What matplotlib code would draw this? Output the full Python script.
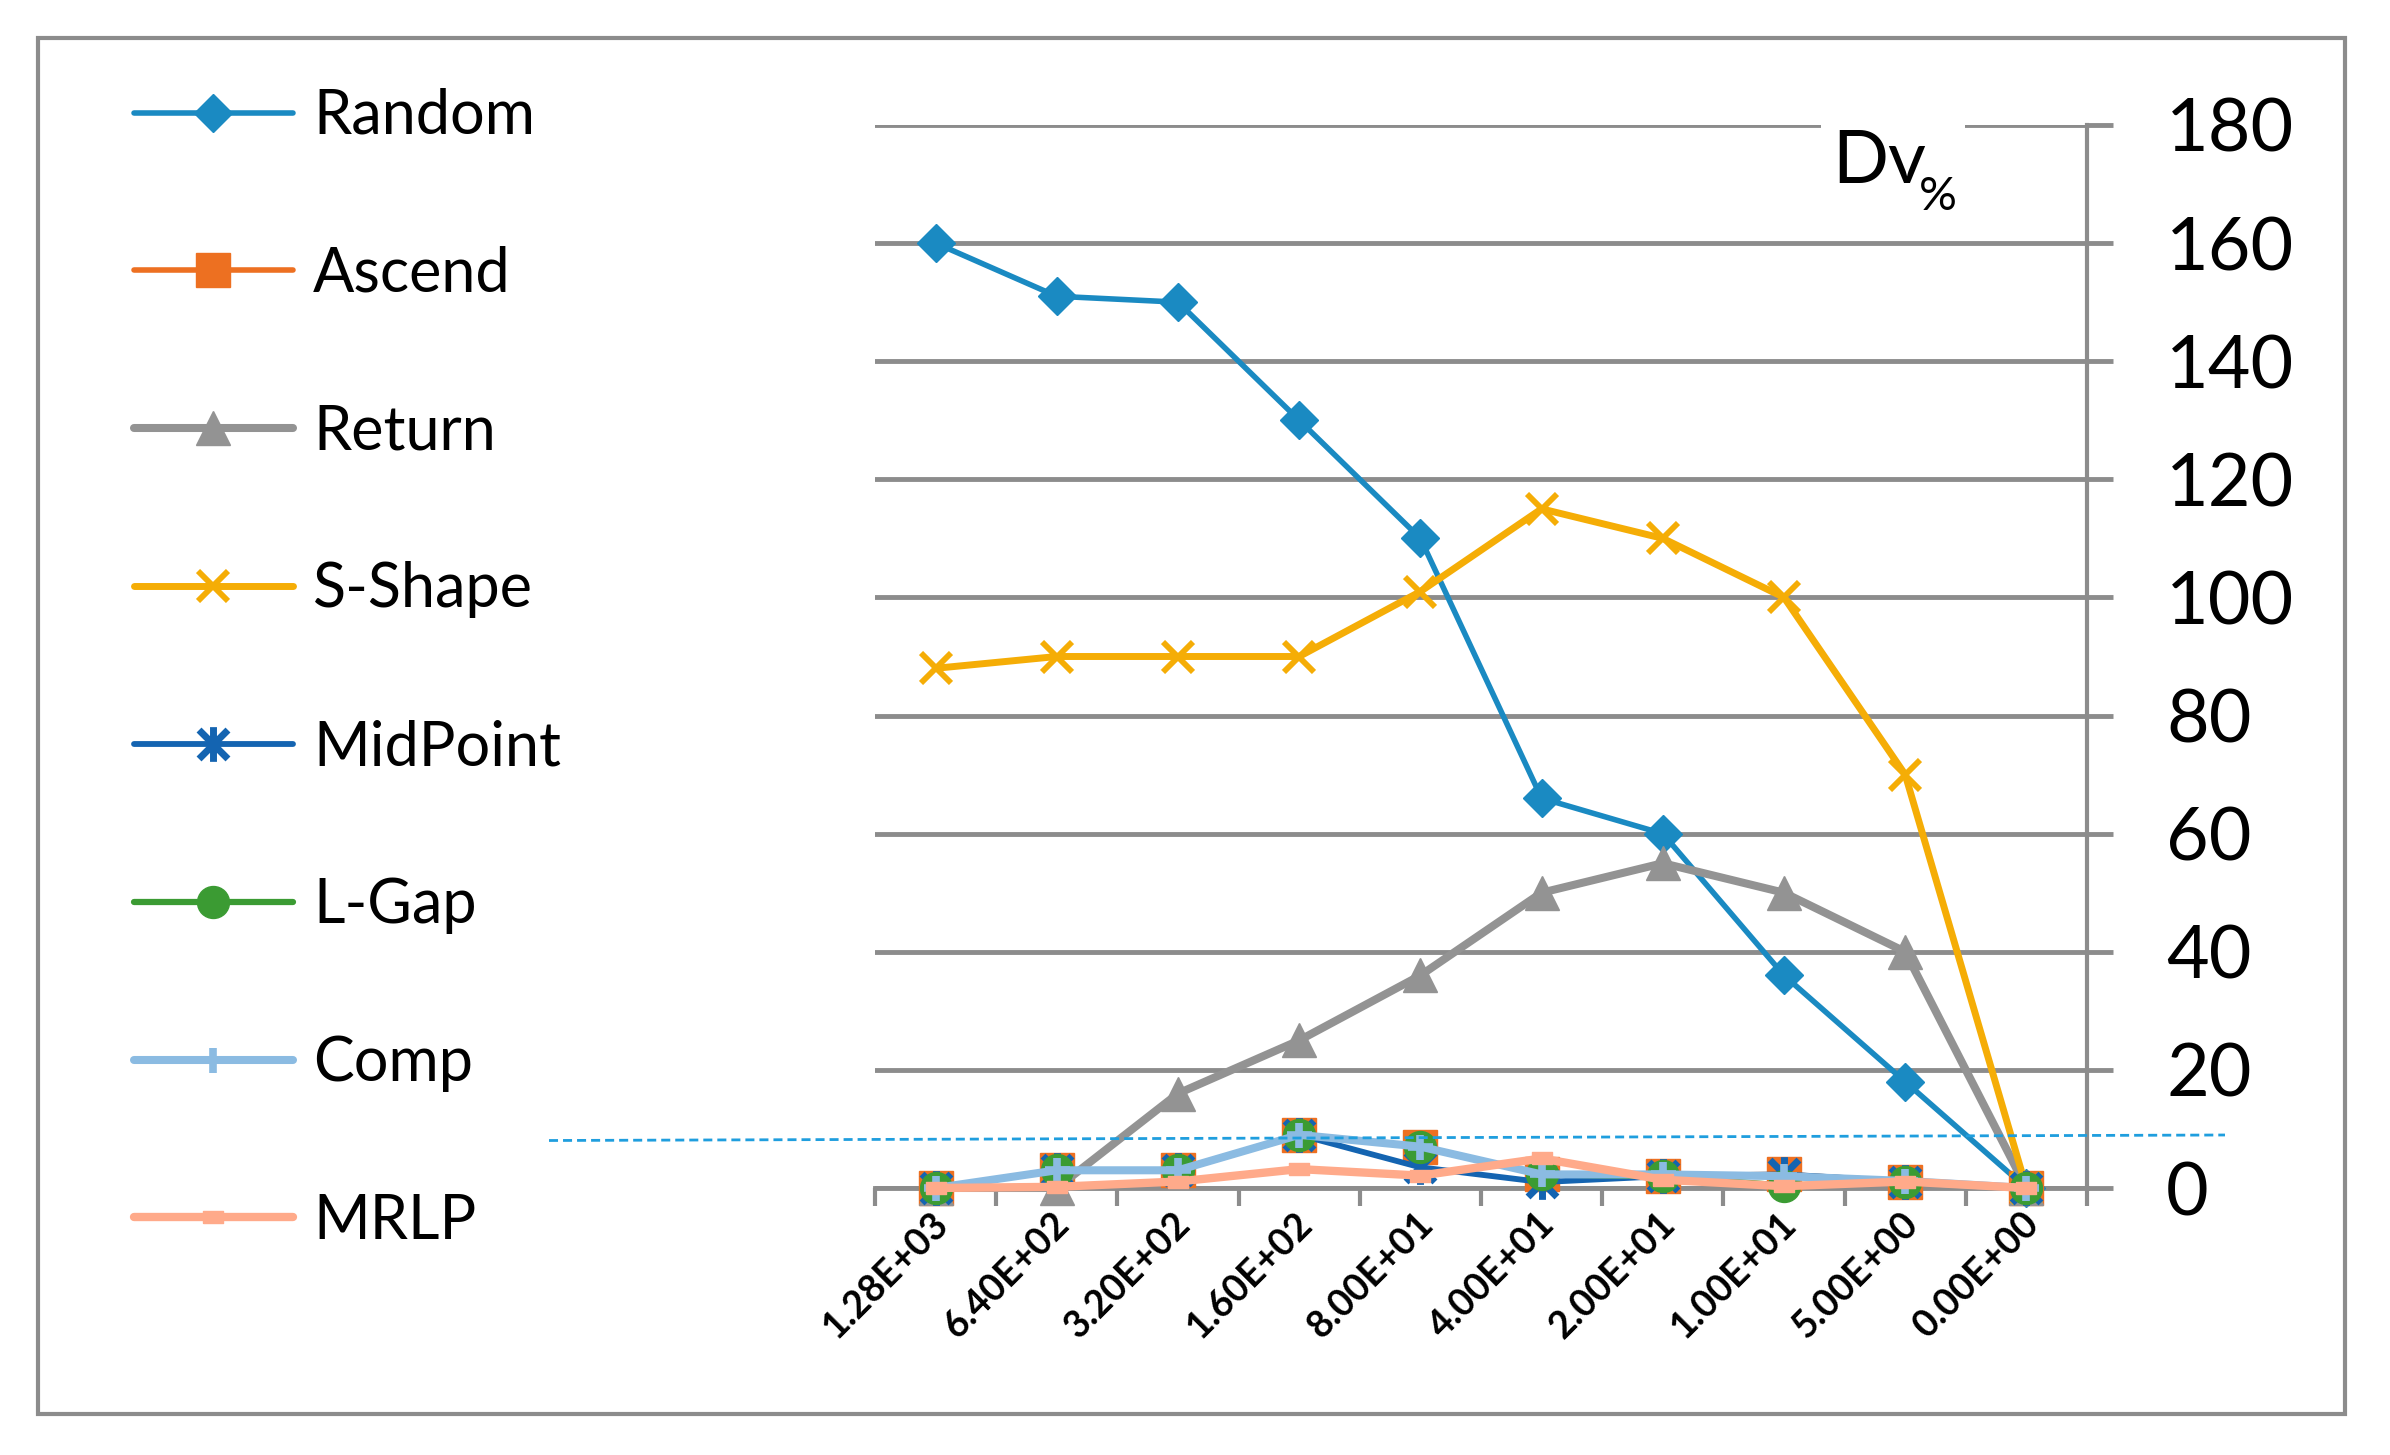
import numpy as np
import matplotlib
matplotlib.use("Agg")
import matplotlib.pyplot as plt
from matplotlib.lines import Line2D
from matplotlib.patches import Rectangle
from matplotlib.path import Path
from matplotlib.transforms import ScaledTranslation

plt.rcParams['font.family'] = ['Lato', 'DejaVu Sans']

# ---- dados ----
categories = ["1.28E+03", "6.40E+02", "3.20E+02", "1.60E+02", "8.00E+01",
              "4.00E+01", "2.00E+01", "1.00E+01", "5.00E+00", "0.00E+00"]
random_v = [160, 151, 150, 130, 110, 66, 60, 36, 18, 0]
ascend_v = [0, 3, 3, 9, 7, 2.3, 2.1, 2.3, 1.1, 0]
return_v = [0, 0, 16, 25, 36, 50, 55, 50, 40, 0]
sshape_v = [88, 90, 90, 90, 101, 115, 110, 100, 70, 0]
midpoint_v = [0, 3, 3, 9, 3.5, 1, 2, 2.3, 1.1, 0]
lgap_v = [0, 3, 3, 9, 7, 2.3, 2, 0.4, 1.1, 0]
comp_v = [0, 3, 3, 9, 7, 2.3, 2.3, 2.0, 1.2, 0]
mrlp_v = [0, 0.2, 1.1, 3.2, 2.1, 5, 1.4, 0.3, 1.1, 0]
yticks = list(range(0, 181, 20))

GRAY = "#8c8c8c"
W, H = 2390, 1455

# marcadores do Excel
star = Path([(-1, -1), (1, 1), (-1, 1), (1, -1), (0, -1.2), (0, 1.2)],
            [Path.MOVETO, Path.LINETO] * 3)
dash = [(-1, -0.55), (1, -0.55), (1, 0.55), (-1, 0.55), (-1, -0.55)]

series = [
    ("Random", random_v, dict(color="#1a8ac2", lw=4.0, marker="D", ms=19)),
    ("Ascend", ascend_v, dict(color="#ed7021", lw=4.0, marker="s", ms=24)),
    ("Return", return_v, dict(color="#939393", lw=5.8, marker="^", ms=25)),
    ("S-Shape", sshape_v, dict(color="#f5ad06", lw=5.0, marker="x", ms=21, mew=4.2)),
    ("MidPoint", midpoint_v, dict(color="#1464b1", lw=4.2, marker=star, ms=25, mew=5)),
    ("L-Gap", lgap_v, dict(color="#3b9b33", lw=4.5, marker="o", ms=23)),
    ("Comp", comp_v, dict(color="#8bbbe2", lw=5.8, marker="+", ms=18, mew=5.5)),
    ("MRLP", mrlp_v, dict(color="#ffaa8a", lw=6.0, marker=dash, ms=15)),
]

fig = plt.figure(figsize=(W / 100, H / 100), dpi=100)
ax = fig.add_axes([875 / W, 1 - 1188 / H, (2087 - 875) / W, (1188 - 125) / H])

x = np.arange(len(categories))
handles = []
for i, (name, vals, st) in enumerate(series):
    ln, = ax.plot(x, vals, label=name, clip_on=False, zorder=3 + i,
                  solid_joinstyle="round", solid_capstyle="round", **st)
    handles.append(ln)

ax.set_xlim(-0.5, 9.5)
ax.set_ylim(0, 180)
for s in ("top", "left"):
    ax.spines[s].set_visible(False)
ax.spines["right"].set_color(GRAY)
ax.spines["right"].set_linewidth(3)
ax.spines["bottom"].set_color(GRAY)
ax.spines["bottom"].set_linewidth(3.5)

ax.yaxis.tick_right()
ax.set_yticks(yticks)
ax.tick_params(axis="y", length=19, width=3.5, color=GRAY, labelsize=53, pad=38)
ax.yaxis.grid(True, color=GRAY, lw=3.5, zorder=0)
ax.set_axisbelow(True)

ax.set_xticks(np.arange(-0.5, 10, 1))
ax.set_xticklabels([])
ax.tick_params(axis="x", which="major", length=13, width=3, color=GRAY)
ax.set_xticks(x, minor=True)
ax.set_xticklabels(categories, minor=True, rotation=45, ha="right", va="center",
                   rotation_mode="anchor", fontsize=27, fontweight="bold")
ax.tick_params(axis="x", which="minor", length=0, pad=22)
shift = ScaledTranslation(7 / 100, 0, fig.dpi_scale_trans)
for lab in ax.get_xticklabels(minor=True):
    lab.set_transform(lab.get_transform() + shift)

# legenda
fig.legend(handles=handles, loc="upper left", bbox_to_anchor=(134 / W, 1 - 88 / H),
           frameon=False, fontsize=44, handlelength=2.6, handletextpad=0.33,
           labelspacing=1.65, borderpad=0, borderaxespad=0, numpoints=1)

# rotulo do eixo
fig.add_artist(Rectangle((1821 / W, 1 - 140 / H), (1965 - 1821) / W, 30 / H,
                         transform=fig.transFigure, fc="white", ec="none", zorder=2))
fig.text(1832 / W, 1 - 183 / H, "Dv", fontsize=53, ha="left", va="baseline", zorder=3)
fig.text(1919 / W, 1 - 210 / H, "%", fontsize=34, ha="left", va="baseline", zorder=3)

# linha tracejada de referencia
fig.add_artist(Line2D([549 / W, 2225 / W], [1 - 1140.5 / H, 1 - 1135 / H],
                      color="#1f9ede", lw=2, linestyle=(0, (3.25, 1.8)), zorder=20))

# moldura
fig.add_artist(Rectangle((38 / W, 1 - 1414 / H), (2345 - 38) / W, (1414 - 38) / H,
                         transform=fig.transFigure, fill=False, ec=GRAY, lw=3))

fig.savefig("out.png", dpi=100)
